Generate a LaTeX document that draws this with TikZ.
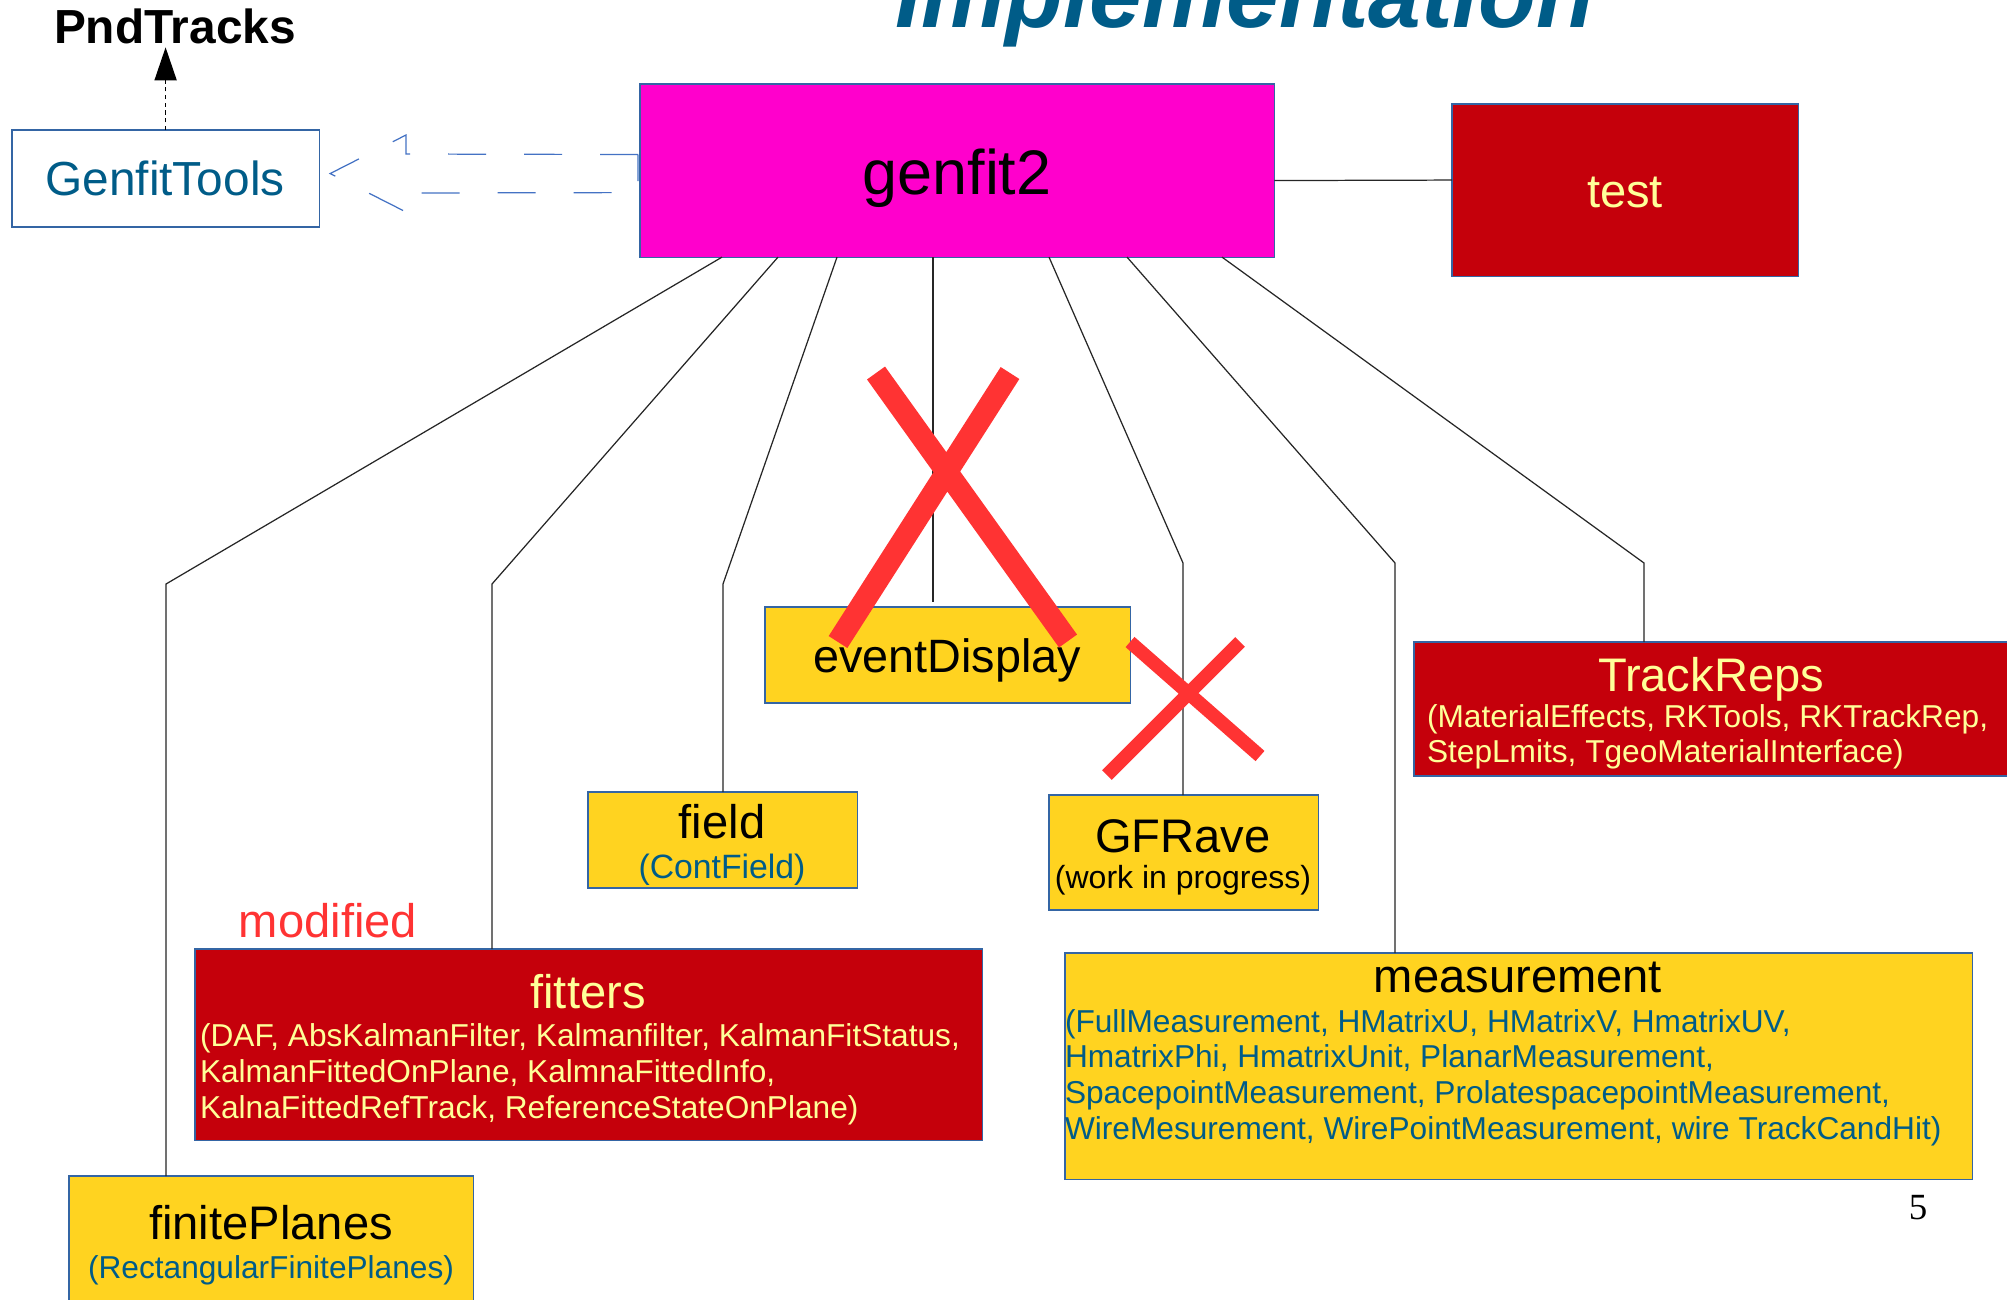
\documentclass[tikz,border=0pt]{standalone}
\usepackage{fontspec}
\setmainfont{Liberation Sans}
\newfontfamily\pagenumfont{Liberation Serif}
\usetikzlibrary{arrows.meta,calc}
\definecolor{magentabox}{HTML}{FF00CC}
\definecolor{darkred}{HTML}{C5000B}
\definecolor{boxyellow}{HTML}{FFD320}
\definecolor{paleyellow}{HTML}{FFFF99}
\definecolor{tealblue}{HTML}{005C88}
\definecolor{boxline}{HTML}{3465A4}
\definecolor{crossred}{HTML}{FF3333}
\definecolor{arrowblue}{HTML}{4472C4}

\begin{document}
\begin{tikzpicture}[x=0.01cm,y=-0.01cm,
    every node/.style={inner sep=0pt,outer sep=0pt},
    >={Triangle[length=9.4pt,width=6.3pt]},
    box/.style={draw=boxline,line width=0.35pt,anchor=north west},
    ybox/.style={box,fill=boxyellow},
    rbox/.style={box,fill=darkred},
    big/.style={font=\fontsize{13.4}{16}\selectfont,anchor=base},
    small/.style={font=\fontsize{9}{10.1}\selectfont,align=left,anchor=base west},
    wire/.style={draw=black!85,line width=0.35pt},
    cross/.style={draw=crossred,line width=6.3pt},
    hollow/.style={draw=arrowblue,line width=0.35pt,dash pattern=on 10.8pt off 10.8pt}]
  \useasboundingbox (0,0) rectangle (2007,1299);
  \clip (0,0) rectangle (2007,1299);
  \fill[white] (0,0) rectangle (2007,1299);

  % title, cut by the top edge
  \node[font=\fontsize{26.9}{30}\selectfont\bfseries\itshape,text=tealblue,anchor=base]
    (title) at (1245,27) {Implementation};

  % boxes (multi-line texts sit on their last baseline)
  \node[box,fill=magentabox,minimum width=6.34cm,minimum height=1.73cm] (genfit2) at (640,84) {};
  \node[big,font=\fontsize{17.9}{21}\selectfont] (genfit2-t) at (957,194) {genfit2};
  \node[rbox,minimum width=3.46cm,minimum height=1.72cm] (test) at (1452,104) {};
  \node[big,text=paleyellow] (test-t) at (1625,207) {test};
  \node[box,fill=white,minimum width=3.07cm,minimum height=0.97cm] (tools) at (12,130) {};
  \node[big,font=\fontsize{13.6}{16}\selectfont,text=tealblue] (tools-t) at (165,195) {GenfitTools};
  \node[big,font=\fontsize{13.6}{16}\selectfont\bfseries] (pnd) at (175,43) {PndTracks};

  \node[ybox,minimum width=3.65cm,minimum height=0.96cm] (event) at (765,607) {};
  \node[big,font=\fontsize{13.3}{15}\selectfont] (event-t) at (947,672) {eventDisplay};

  \node[ybox,minimum width=2.69cm,minimum height=0.96cm] (field) at (588,792) {};
  \node[big] (field-t) at (722,838) {field};
  \node[big,font=\fontsize{9.6}{11}\selectfont,text=tealblue] (field-d) at (722,878) {(ContField)};

  \node[ybox,minimum width=2.69cm,minimum height=1.15cm] (rave) at (1049,795) {};
  \node[big] (rave-t) at (1183,852) {GFRave};
  \node[big,font=\fontsize{9.1}{11}\selectfont] (rave-d) at (1183,888) {(work in progress)};

  \node[rbox,minimum width=5.96cm,minimum height=1.34cm] (reps) at (1414,642) {};
  \node[big,text=paleyellow] (reps-t) at (1711,691) {TrackReps};
  \node[small,font=\fontsize{9}{9.7}\selectfont,text=paleyellow] (reps-d) at (1427,762)
    {(MaterialEffects, RKTools, RKTrackRep,\\StepLmits, TgeoMaterialInterface)};

  \node[font=\fontsize{13.4}{16}\selectfont,text=crossred,anchor=base] (mod) at (328,937) {modified};
  \node[rbox,minimum width=7.87cm,minimum height=1.91cm] (fitters) at (195,949) {};
  \node[big,text=paleyellow] (fitters-t) at (588,1008) {fitters};
  \node[small,text=paleyellow] (fitters-d) at (200,1118)
    {(DAF, AbsKalmanFilter, Kalmanfilter, KalmanFitStatus,\\
     KalmanFittedOnPlane, KalmnaFittedInfo,\\
     KalnaFittedRefTrack, ReferenceStateOnPlane)};

  \node[ybox,minimum width=9.07cm,minimum height=2.26cm] (meas) at (1065,953) {};
  \node[big] (meas-t) at (1518,992) {measurement};
  \node[small,text=tealblue] (meas-d) at (1065,1139)
    {(FullMeasurement, HMatrixU, HMatrixV, HmatrixUV,\\
     HmatrixPhi, HmatrixUnit, PlanarMeasurement,\\
     SpacepointMeasurement, ProlatespacepointMeasurement,\\
     WireMesurement, WirePointMeasurement, wire TrackCandHit)};

  \node[ybox,minimum width=4.04cm,minimum height=1.40cm] (finite) at (69,1176) {};
  \node[big] (finite-t) at (271,1239) {finitePlanes};
  \node[big,font=\fontsize{9}{11}\selectfont,text=tealblue] (finite-d) at (271,1278) {(RectangularFinitePlanes)};

  \node[font=\fontsize{10.5}{12}\pagenumfont,anchor=base] (pagenum) at (1918,1219) {5};

  % connectors
  \coordinate (k1) at (166,584);
  \coordinate (k2) at (492,584);
  \coordinate (k3) at (723,584);
  \coordinate (k5) at (1183,563);
  \coordinate (k6) at (1395,563);
  \coordinate (k7) at (1644,563);
  \draw[wire] ($(genfit2.south west)+(82,0)$) -- (k1) -- (finite.north -| k1);
  \draw[wire] ($(genfit2.south west)+(138,0)$) -- (k2) -- (fitters.north -| k2);
  \draw[wire] ($(genfit2.south west)+(197,0)$) -- (k3) -- (field.north -| k3);
  \draw[wire] ($(genfit2.south west)+(293,0)$) -- ++(0,345);
  \draw[wire] ($(genfit2.south west)+(409,0)$) -- (k5) -- (rave.north -| k5);
  \draw[wire] ($(genfit2.south west)+(487,0)$) -- (k6) -- (meas.north -| k6);
  \draw[wire] ($(genfit2.south west)+(582,0)$) -- (k7) -- (reps.north -| k7);
  \draw[wire] ($(genfit2.east)+(0,10)$) -- ($(test.west)+(0,-10)$);
  \draw[line width=0.35pt,dash pattern=on 1.2pt off 1pt,->,shorten >=1.1pt]
    (tools.north) -- (pnd.south -| tools.north);
  \draw[hollow] ($(genfit2.west)+(-2,-16)$) -- (406,154) -- (406,135)
    -- ($(tools.east)+(11,-5)$) -- (406,212) -- (406,193)
    -- ($(genfit2.west)+(-2,22)$) -- cycle;

  % crossed out
  \draw[cross] (876,373) -- (1068,641) (1010,373) -- (838,642);
  \draw[cross,line width=3.85pt] (1130,642) -- (1260,756) (1240,642) -- (1107,775);
\end{tikzpicture}
\end{document}
